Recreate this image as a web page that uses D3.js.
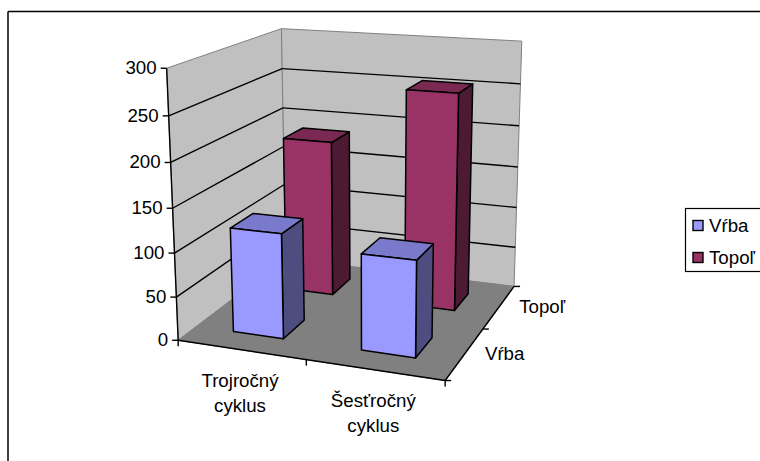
<!DOCTYPE html>
<html><head><meta charset="utf-8">
<script src="https://cdn.jsdelivr.net/npm/d3@7"></script>
<style>html,body{margin:0;padding:0;background:#fff}svg{display:block}text{font-family:"Liberation Sans",Arial,sans-serif;font-size:18.7px;fill:#000}</style>
</head><body><svg id="c" width="760" height="461"></svg>
<script>
const categories = ["Trojročný cyklus", "Šesťročný cyklus"];
const seriesNames = ["Vŕba", "Topoľ"];
const vrbaValues = [120, 108];
const topolValues = [187, 255];
const valueTicks = [0, 50, 100, 150, 200, 250, 300];
const seriesFront = ["#9999FF", "#993366"];
const seriesTop = ["#7A7ACC", "#7A2952"];
const seriesSide = ["#4D4D80", "#4D1A33"];
const seriesValues = [vrbaValues, topolValues];

// Screen positions of the plot box's corners: [u, v, w, x, y]
const boxCorners = [
  [0,0,0,178,341],[1,0,0,445,380],[0,0,1,286,258],[1,0,1,514,287],
  [0,1,0,167,68],[0,1,1,281,29],[1,1,1,522,41]
];

// Fit a projective camera to those corners (least squares)
function fitCamera(pts){
  const A=[],b=[];
  pts.forEach(([u,v,w,x,y])=>{
    A.push([u,v,w,1,0,0,0,0,-x*u,-x*v,-x*w]);b.push(x);
    A.push([0,0,0,0,u,v,w,1,-y*u,-y*v,-y*w]);b.push(y);
  });
  const n=11,M=d3.range(n).map(i=>d3.range(n+1).map(j=>{
    let s=0;A.forEach((r,k)=>{s+=r[i]*(j<n?r[j]:b[k]);});
    return s+(i===j?1e-7:0);
  }));
  for(let i=0;i<n;i++){
    let p=i;for(let r=i+1;r<n;r++)if(Math.abs(M[r][i])>Math.abs(M[p][i]))p=r;
    [M[i],M[p]]=[M[p],M[i]];
    for(let r=0;r<n;r++)if(r!==i){const f=M[r][i]/M[i][i];for(let c=i;c<=n;c++)M[r][c]-=f*M[i][c];}
  }
  return M.map((r,i)=>r[n]/r[i]);
}
const cam=fitCamera(boxCorners);
const project=(u,v,w)=>{
  const d=cam[8]*u+cam[9]*v+cam[10]*w+1;
  return [(cam[0]*u+cam[1]*v+cam[2]*w+cam[3])/d,(cam[4]*u+cam[5]*v+cam[6]*w+cam[7])/d];
};

const xBand=d3.scaleBand().domain(categories).range([0,1]).paddingInner(0.6).paddingOuter(0.3);
const zBand=d3.scaleBand().domain(seriesNames).range([0,1]).paddingInner(0.6).paddingOuter(0.3);
const yScale=d3.scaleLinear().domain([0,300]).range([0,1]);

const svg=d3.select("#c");
const poly=(pts,fill,stroke,sw)=>svg.append("polygon")
  .attr("points",pts.map(p=>p.join(",")).join(" "))
  .attr("fill",fill).attr("stroke",stroke||"none").attr("stroke-width",sw||0).attr("stroke-linejoin","round");
const line=(a,b,stroke,sw)=>svg.append("line")
  .attr("x1",a[0]).attr("y1",a[1]).attr("x2",b[0]).attr("y2",b[1])
  .attr("stroke",stroke).attr("stroke-width",sw);

// Chart-area frame: only the left and top edges are visible
line([8,11.5],[760,11.5],"#000",1.5);
line([8,11.5],[8,461],"#000",1.5);

// Walls and floor
poly([project(0,0,0),project(0,1,0),project(0,1,1),project(0,0,1)],"#C0C0C0","#808080",1);
poly([project(0,0,1),project(0,1,1),project(1,1,1),project(1,0,1)],"#C0C0C0","#808080",1);
poly([project(0,0,0),project(0,0,1),project(1,0,1),project(1,0,0)],"#808080","#808080",1);

// Gridlines
valueTicks.filter(t=>t>0 && t<300).forEach(t=>{
  const v=yScale(t);
  line(project(0,v,0),project(0,v,1),"#000",1.4);
  line(project(0,v,1),project(1,v,1),"#000",1.4);
});

// Bars, back row first
d3.range(seriesNames.length).reverse().forEach(s=>{
  categories.forEach((c,i)=>{
    const u0=xBand(c),u1=u0+xBand.bandwidth();
    const w0=zBand(seriesNames[s]),w1=w0+zBand.bandwidth();
    const v=yScale(seriesValues[s][i]);
    poly([project(u1,0,w0),project(u1,v,w0),project(u1,v,w1),project(u1,0,w1)],seriesSide[s],"#000",1.5);
    poly([project(u0,v,w0),project(u0,v,w1),project(u1,v,w1),project(u1,v,w0)],seriesTop[s],"#000",1.5);
    poly([project(u0,0,w0),project(u0,v,w0),project(u1,v,w0),project(u1,0,w0)],seriesFront[s],"#000",1.5);
  });
});

// Axis lines
line(project(0,0,0),project(0,1,0),"#000",1.4);
line(project(0,0,0),project(1,0,0),"#000",1.4);
line(project(1,0,0),project(1,0,1),"#000",1.4);

// Value axis ticks and labels
valueTicks.forEach(t=>{
  const p=project(0,yScale(t),0);
  line([p[0]-6,p[1]],p,"#000",1.4);
  svg.append("text").attr("x",p[0]-10).attr("y",p[1]+6).attr("text-anchor","end").text(t);
});

// Category axis ticks and labels
[0,0.5,1].forEach(u=>{
  const p=project(u,0,0);
  line(p,[p[0],p[1]+6],"#000",1.4);
});
categories.forEach(c=>{
  const p=project(xBand(c)+xBand.bandwidth()/2,0,0);
  const t=svg.append("text").attr("text-anchor","middle");
  c.split(" ").forEach((w,k)=>t.append("tspan").attr("x",p[0]-1).attr("y",p[1]+37+k*25).text(w));
});

// Depth axis ticks and labels
[0,0.5,1].forEach(w=>{
  const p=project(1,0,w);
  line(p,[p[0]+6,p[1]],"#000",1.4);
});
seriesNames.forEach(n=>{
  const p=project(1,0,zBand(n)+zBand.bandwidth()/2);
  svg.append("text").attr("x",p[0]+20).attr("y",p[1]+6).text(n);
});

// Legend (runs off the right edge)
svg.append("rect").attr("x",685.5).attr("y",208.5).attr("width",90).attr("height",63)
  .attr("fill","#fff").attr("stroke","#000").attr("stroke-width",1.2);
seriesNames.forEach((n,i)=>{
  const y=d3.scalePoint().domain(seriesNames).range([225.5,257.5])(n);
  svg.append("rect").attr("x",693).attr("y",y-5).attr("width",10).attr("height",10)
    .attr("fill",seriesFront[i]).attr("stroke","#000").attr("stroke-width",1.4);
  svg.append("text").attr("x",709).attr("y",y+6.5).text(n);
});
</script></body></html>
